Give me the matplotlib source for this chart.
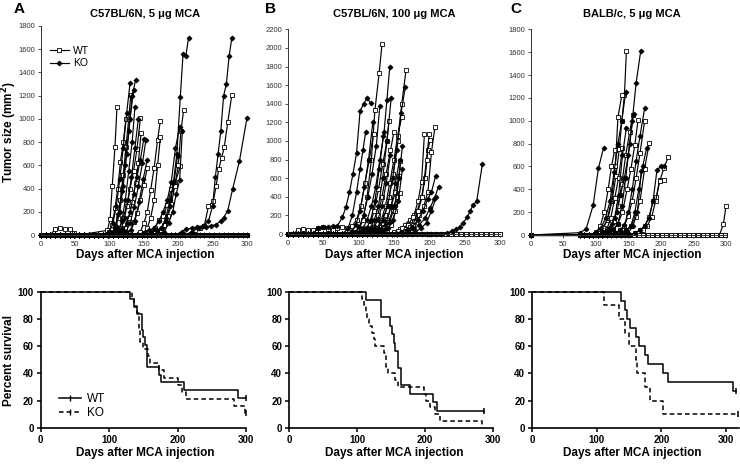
"""Tumor growth and survival after MCA injection (WT vs KO)."""

import matplotlib
matplotlib.use("Agg")
import matplotlib.pyplot as plt
from matplotlib.lines import Line2D

plt.rcParams.update({
    "font.family": ["Liberation Sans", "DejaVu Sans"],
    "axes.spines.top": False,
    "axes.spines.right": False,
})

# weekly measurement days (tumor-free mice sit on the zero line)
WEEKLY = [0, 7, 14, 21, 28, 35, 42, 49, 56, 63, 70, 77, 84, 91, 98, 105, 112, 119,
          126, 133, 140, 147, 154, 161, 168, 175, 182, 189, 196, 203, 210, 217, 224,
          231, 238, 245, 252, 259, 266, 273, 280, 287, 294, 300]
C_SCHED = [0, 75, 82, 89, 96, 103, 110, 117, 124, 131, 138, 145, 152, 159, 166, 173,
           180, 187, 194, 201, 208, 215, 222, 229, 236, 243, 250, 257, 264, 271, 278,
           285, 292, 299]

# ---- panel A: C57BL/6N, 5 ug MCA (days, tumor size mm2) ----
A_WT = [
    ([21, 28, 35, 42, 49, 56, 97, 101, 104, 108, 111], [50, 60, 55, 50, 20, 0, 40, 140, 420, 760, 1105]),
    ([100, 104, 108, 112, 116, 120, 124], [30, 90, 230, 400, 630, 800, 1000]),
    ([104, 108, 112, 116, 120, 124, 128, 131], [20, 60, 150, 300, 520, 760, 1000, 1210]),
    ([110, 115, 120, 125, 130, 135, 140, 145], [20, 60, 150, 250, 400, 550, 740, 1005]),
    ([118, 123, 128, 133, 138, 142, 146], [20, 60, 150, 280, 450, 620, 880]),
    ([130, 135, 140, 145, 150, 155], [30, 110, 190, 300, 430, 580]),
    ([145, 150, 155, 160, 165, 170, 174], [30, 100, 200, 390, 580, 820, 985]),
    ([150, 155, 160, 165, 170, 174], [20, 60, 150, 300, 600, 840]),
    ([160, 166, 172, 178, 184, 190, 196, 203], [20, 60, 130, 160, 260, 400, 460, 590]),
    ([175, 180, 185, 190, 195, 200, 204, 208], [40, 90, 160, 270, 420, 600, 900, 1080]),
    ([225, 232, 238, 244, 251, 255, 259, 263, 267, 272, 278],
     [40, 60, 80, 250, 290, 420, 570, 660, 760, 970, 1210]),
]
A_WT_FREE = 4
A_KO = [
    ([100, 105, 110, 115, 120, 125, 130], [30, 100, 250, 480, 750, 1050, 1310]),
    ([103, 108, 113, 118, 123, 128, 133, 138], [20, 60, 180, 380, 600, 900, 1200, 1335]),
    ([105, 110, 115, 120, 125, 130, 135], [20, 80, 200, 420, 700, 1000, 1250]),
    ([108, 113, 118, 123, 128, 133, 137], [10, 40, 120, 300, 550, 800, 1100]),
    ([112, 117, 122, 127, 132, 137, 142], [10, 50, 150, 300, 500, 750, 1000]),
    ([115, 120, 125, 130, 135, 140, 145, 150], [10, 40, 100, 200, 350, 500, 650, 830]),
    ([118, 124, 130, 136, 142, 148, 153], [10, 30, 100, 240, 420, 620, 820]),
    ([125, 131, 137, 143, 149, 155], [10, 40, 120, 280, 480, 650]),
    ([150, 158, 165, 172, 178, 184, 190, 196, 202], [20, 40, 60, 120, 200, 300, 460, 750, 930]),
    ([160, 168, 175, 182, 188, 193, 198, 203, 207, 211, 215],
     [20, 40, 60, 120, 250, 450, 700, 1190, 1560, 1540, 1700]),
    ([170, 176, 182, 188, 194, 199], [20, 60, 150, 300, 460, 680]),
    ([180, 186, 192, 197, 202, 206], [30, 100, 200, 350, 470, 900]),
    ([205, 212, 220, 228, 236, 244, 250, 254, 258, 262, 266, 270, 274, 278],
     [30, 50, 60, 70, 80, 120, 250, 500, 700, 900, 1200, 1300, 1540, 1700]),
    ([220, 230, 240, 248, 255, 262, 266, 272, 279, 289, 300],
     [30, 60, 70, 80, 90, 120, 150, 210, 393, 637, 1010]),
]
A_KO_FREE = 2

# ---- panel B: C57BL/6N, 100 ug MCA ----
B_WT = [
    ([100, 106, 112, 118, 123, 129, 133], [40, 150, 400, 800, 1330, 1730, 2040]),
    ([14, 21, 28, 35, 42, 49, 56, 63, 70, 77, 84, 91, 97, 103, 109, 115, 121],
     [40, 55, 45, 40, 60, 70, 50, 45, 60, 80, 60, 90, 150, 300, 550, 800, 1075]),
    ([110, 116, 122, 128, 134, 140, 143], [30, 100, 250, 480, 750, 1000, 1210]),
    ([115, 121, 127, 133, 139, 145, 150], [20, 80, 200, 400, 650, 900, 1100]),
    ([120, 126, 132, 138, 144, 150, 155, 161], [20, 60, 150, 300, 550, 800, 1050, 1260]),
    ([125, 131, 137, 143, 149, 155, 161, 167], [20, 80, 200, 400, 650, 1000, 1400, 1760]),
    ([128, 134, 140, 146, 152, 157], [20, 60, 150, 300, 450, 620]),
    ([130, 136, 142, 148, 154, 159], [20, 60, 130, 250, 400, 780]),
    ([140, 146, 152, 158], [20, 100, 250, 440]),
    ([150, 158, 165, 172, 178, 184, 189, 193], [20, 50, 100, 150, 200, 350, 560, 1071]),
    ([155, 162, 170, 177, 183, 189, 194, 198, 201], [30, 60, 100, 180, 250, 400, 600, 900, 1010]),
    ([165, 172, 179, 186, 192, 198, 203, 208], [30, 80, 130, 200, 300, 450, 880, 1154]),
    ([170, 177, 184, 190, 196, 200], [30, 100, 250, 400, 800, 1080]),
]
B_WT_FREE = 2
B_KO = [
    ([42, 49, 56, 63, 70, 77, 82, 87, 92, 97, 102, 107, 112, 117],
     [60, 70, 80, 85, 90, 180, 290, 450, 650, 870, 1320, 1400, 1460, 1405]),
    ([85, 91, 97, 102, 106, 110], [60, 200, 450, 700, 900, 1100]),
    ([90, 96, 102, 108, 114, 120], [30, 100, 250, 500, 800, 1200]),
    ([95, 101, 107, 113, 119, 125, 130], [20, 80, 200, 400, 650, 950, 1380]),
    ([100, 106, 112, 118, 124, 130, 136, 140, 144], [20, 60, 150, 300, 500, 800, 1100, 1440, 1800]),
    ([105, 111, 117, 123, 129, 135], [20, 60, 150, 350, 700, 1050]),
    ([110, 116, 122, 128, 134, 140, 146], [20, 60, 150, 300, 600, 1000, 1460]),
    ([115, 121, 127, 133, 139, 145], [20, 60, 150, 300, 550, 850]),
    ([120, 127, 134, 141, 148, 154, 160, 166], [20, 60, 150, 300, 600, 900, 1300, 1580]),
    ([125, 132, 139, 146, 152, 158], [20, 50, 120, 300, 550, 800]),
    ([130, 137, 144, 151, 157, 162], [20, 50, 130, 300, 600, 950]),
    ([135, 142, 149, 156, 162], [20, 60, 150, 350, 700]),
    ([160, 168, 176, 184, 191, 198, 203, 209], [20, 40, 80, 150, 250, 380, 450, 627]),
    ([170, 178, 186, 194, 201, 207, 213], [20, 50, 100, 170, 280, 380, 508]),
    ([180, 188, 196, 203, 210], [20, 60, 120, 250, 400]),
    ([225, 232, 238, 243, 248, 254, 258, 262, 267, 275],
     [10, 30, 50, 80, 120, 186, 250, 315, 350, 750]),
]
B_KO_FREE = 0

# ---- panel C: BALB/c, 5 ug MCA ----
C_WT = [
    ([100, 110, 118, 125, 131, 136, 140, 144, 147], [30, 60, 130, 300, 520, 750, 1000, 1225, 1610]),
    ([105, 112, 118, 124, 130, 134, 140], [20, 60, 150, 300, 600, 1030, 1225]),
    ([100, 107, 113, 119, 124, 129], [20, 80, 200, 400, 600, 740]),
    ([110, 117, 123, 129, 135, 141], [20, 50, 150, 320, 500, 760]),
    ([115, 122, 128, 134, 140, 146, 152, 157], [20, 50, 120, 250, 450, 700, 900, 1050]),
    ([120, 127, 134, 141, 148, 154, 160, 165], [20, 50, 100, 200, 400, 580, 790, 1010]),
    ([130, 137, 144, 150, 156, 162, 168, 175], [20, 40, 80, 170, 300, 500, 720, 997]),
    ([140, 147, 154, 161, 168, 175, 182], [20, 40, 80, 160, 300, 580, 802]),
    ([160, 168, 175, 182, 188, 193, 198, 204], [20, 40, 80, 160, 300, 330, 480, 481]),
    ([165, 172, 179, 186, 192, 198, 205, 211], [20, 40, 80, 160, 300, 470, 590, 680]),
    ([290, 296, 300], [0, 95, 254]),
]
C_WT_FREE = 3
C_KO = [
    ([75, 85, 96, 104, 112], [20, 50, 262, 583, 764]),
    ([100, 108, 115, 122, 128, 134, 140, 146], [20, 60, 150, 300, 550, 800, 1000, 1254]),
    ([110, 118, 125, 132, 138, 144, 150, 156, 162, 169],
     [20, 50, 100, 200, 350, 500, 700, 1000, 1333, 1610]),
    ([115, 122, 129, 135, 141, 147], [20, 60, 150, 350, 700, 940]),
    ([120, 127, 134, 140, 146, 152, 158], [20, 40, 100, 250, 500, 800, 1060]),
    ([130, 137, 144, 150, 156, 162, 168, 175], [20, 40, 90, 200, 400, 650, 870, 1108]),
    ([140, 147, 154, 160, 166, 172, 178], [20, 40, 80, 200, 400, 600, 760]),
    ([160, 168, 175, 182, 188, 194, 200, 205], [20, 40, 80, 150, 300, 570, 600, 606]),
    ([150, 157, 164, 170], [20, 80, 200, 560]),
]
C_KO_FREE = 0

# ---- Kaplan-Meier survival (day, percent surviving) ----
KM = {
    "A": {
        "WT": ([0, 131, 136, 140, 148, 150, 152, 156, 173, 176, 210, 289, 300],
               [100, 94.4, 88.9, 83.3, 72.2, 66.7, 61.1, 44.4, 38.9, 33.3, 27.8, 22.2, 22.2]),
        "KO": ([0, 133, 137, 140, 143, 145, 150, 157, 160, 173, 180, 200, 207, 213, 283, 298, 300],
               [100, 94.7, 89.5, 84.2, 73.7, 63.2, 57.9, 52.6, 47.4, 42.1, 36.8, 31.6, 26.3,
                21.1, 15.8, 10.5, 10.5]),
    },
    "B": {
        "WT": ([0, 113, 136, 149, 152, 154, 156, 160, 164, 178, 212, 218, 287],
               [100, 93.75, 81.25, 75, 68.75, 62.5, 56.25, 43.75, 31.25, 25, 18.75, 12.5, 12.5]),
        "KO": ([0, 108, 110, 113, 115, 118, 122, 125, 127, 140, 142, 146, 156, 161, 198, 202,
                207, 215, 222, 284],
               [100, 95, 90, 85, 80, 75, 70, 65, 60, 55, 45, 40, 35, 30, 25, 20, 15, 10, 5, 0]),
    },
    "C": {
        "WT": ([0, 138, 143, 147, 151, 161, 166, 174, 179, 203, 210, 311, 316],
               [100, 93.3, 86.7, 80, 73.3, 66.7, 60, 53.3, 46.7, 40, 33.3, 26.7, 26.7]),
        "KO": ([0, 112, 135, 143, 150, 160, 162, 174, 182, 203, 318],
               [100, 90, 80, 70, 60, 50, 40, 30, 20, 10, 10]),
    },
}
KM_CENSORED = {"A": ("WT", "KO"), "B": ("WT",), "C": ("WT", "KO")}

TITLES = ["C57BL/6N, 5 \u03bcg MCA", "C57BL/6N, 100 \u03bcg MCA", "BALB/c, 5 \u03bcg MCA"]
LETTERS = ["A", "B", "C"]
YMAX = [1800, 2200, 1800]

W, H = 740, 466


def box(left, top, right, bottom):
    return [left / W, 1 - bottom / H, (right - left) / W, (bottom - top) / H]


def fig_text(x, y, s, **kw):
    fig.text(x / W, 1 - y / H, s, **kw)


WT_STYLE = dict(color="black", lw=0.85, marker="s", ms=3.2, mfc="white", mec="black",
                mew=0.6, clip_on=False)
KO_STYLE = dict(color="black", lw=0.85, marker="D", ms=2.6, mfc="black", mec="black",
                mew=0.5, clip_on=False)


def draw_mice(ax, curves, n_free, sched, style):
    for days, sizes in curves:
        lead = [d for d in sched if d < days[0] - 3]
        ax.plot(lead + days, [0] * len(lead) + sizes, **style)
    for _ in range(n_free):
        ax.plot(sched, [0] * len(sched), **style)


fig = plt.figure(figsize=(7.4, 4.66), dpi=100)

top_boxes = [box(40.7, 26, 247, 235), box(288, 29.3, 500, 234), box(530.7, 29.3, 726, 235)]
bot_boxes = [box(40.7, 291.8, 246, 427.7), box(289, 291.8, 493, 427.7), box(532, 291.8, 739, 427.7)]
growth = [(A_WT, A_WT_FREE, A_KO, A_KO_FREE, WEEKLY),
          (B_WT, B_WT_FREE, B_KO, B_KO_FREE, WEEKLY),
          (C_WT, C_WT_FREE, C_KO, C_KO_FREE, C_SCHED)]

for i in range(3):
    wt, wt_free, ko, ko_free, sched = growth[i]
    ax = fig.add_axes(top_boxes[i])
    draw_mice(ax, wt, wt_free, sched, WT_STYLE)
    draw_mice(ax, ko, ko_free, sched, KO_STYLE)
    ax.set_xlim(0, 300)
    ax.set_ylim(0, YMAX[i])
    ax.set_xticks(range(0, 301, 50))
    ax.set_yticks(range(0, YMAX[i] + 1, 200))
    for sp in ("left", "bottom"):
        ax.spines[sp].set_linewidth(0.7)
        ax.spines[sp].set_color("#333333")
    ax.tick_params(labelsize=5.5, labelcolor="#333333", length=2, width=0.6, pad=2,
                   color="#333333")
    if i == 0:
        handles = [Line2D([], [], **{k: v for k, v in WT_STYLE.items() if k != "clip_on"}),
                   Line2D([], [], **{k: v for k, v in KO_STYLE.items() if k != "clip_on"})]
        ax.legend(handles, ["WT", "KO"], loc="upper left", bbox_to_anchor=(0.02, 0.93),
                  frameon=False, fontsize=7.5, handlelength=1.8, handletextpad=0.4,
                  labelspacing=0.25, borderpad=0)

    kb = fig.add_axes(bot_boxes[i])
    for grp, ls in (("WT", "-"), ("KO", (0, (3, 2)))):
        t, s = KM[LETTERS[i]][grp]
        kb.step(t, s, where="post", color="black", lw=1.1, ls=ls, clip_on=False)
        if grp in KM_CENSORED[LETTERS[i]]:
            kb.plot([t[-1]], [s[-1]], marker="|", ms=5, mew=1.1, color="black", clip_on=False)
    kb.set_xlim(0, 320 if i == 2 else 300)
    kb.set_ylim(0, 100)
    kb.set_xticks([0, 100, 200, 300])
    kb.set_yticks([0, 20, 40, 60, 80, 100])
    for sp in ("left", "bottom"):
        kb.spines[sp].set_linewidth(1.2)
    kb.tick_params(labelsize=7, length=3, width=1.1, pad=2)
    for lab in kb.get_xticklabels() + kb.get_yticklabels():
        lab.set_fontweight("bold")
    if i == 0:
        handles = [Line2D([], [], color="black", lw=1.1, marker="|", ms=4),
                   Line2D([], [], color="black", lw=1.1, ls=(0, (3, 2)), marker="|", ms=4)]
        kb.legend(handles, ["WT", "KO"], loc="upper left", bbox_to_anchor=(0.06, 0.3),
                  frameon=False, fontsize=8.5, handlelength=1.9, handletextpad=0.5,
                  labelspacing=0.2, borderpad=0)

# titles, panel letters, axis labels
title_x = [145, 394, 632]
letter_x = [19, 271, 516]
for i in range(3):
    fig_text(title_x[i], 14, TITLES[i], ha="center", va="center", fontsize=8, fontweight="bold")
    fig_text(letter_x[i], 9, LETTERS[i], ha="center", va="center", fontsize=11, fontweight="bold")
    fig_text(title_x[i], 255, "Days after MCA injection", ha="center", va="center",
             fontsize=8.5, fontweight="bold")
    fig_text(title_x[i], 453, "Days after MCA injection", ha="center", va="center",
             fontsize=8.5, fontweight="bold")
fig_text(9, 132, "Tumor size (mm$^\\mathbf{2}$)", rotation=90, ha="center", va="center",
         fontsize=8.5, fontweight="bold")
fig_text(9, 360, "Percent survival", rotation=90, ha="center", va="center",
         fontsize=8.5, fontweight="bold")

fig.savefig("out.png", dpi=100)
